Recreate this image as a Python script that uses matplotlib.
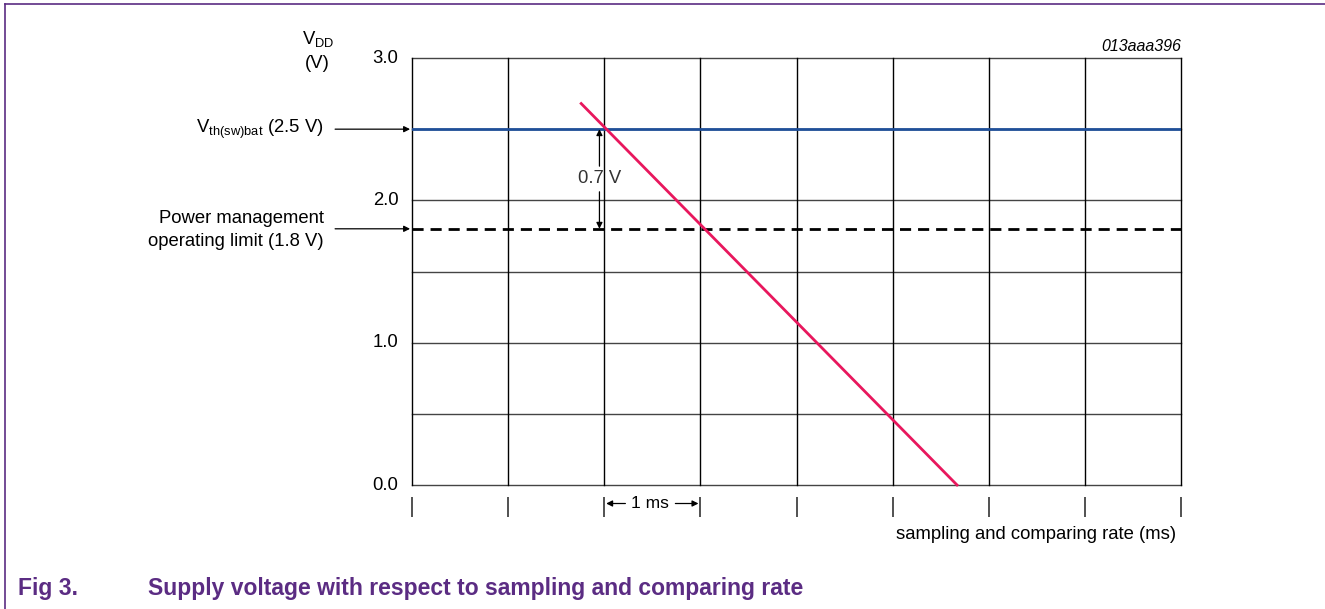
import matplotlib.pyplot as plt
from matplotlib.lines import Line2D

plt.rcParams['font.family'] = ['Liberation Sans', 'DejaVu Sans']

# data
x_ticks = [0, 1, 2, 3, 4, 5, 6, 7, 8]
y_grid = [0.0, 0.5, 1.0, 1.5, 2.0, 2.5, 3.0]
y_labels = {0.0: '0.0', 1.0: '1.0', 2.0: '2.0', 3.0: '3.0'}
v_threshold = 2.5
v_limit = 1.8
decay_x = [1.76, 5.67]
decay_y = [2.68, 0.0]

fs = 13.3
purple = '#5b2c83'
W, H = 1325, 609
fig = plt.figure(figsize=(W / 100, H / 100), dpi=100)
ax = fig.add_axes([412 / W, 1 - 485 / H, 769 / W, 427 / H])
ax.set_xlim(0, 8)
ax.set_ylim(0, 3)
ax.axis('off')

# grid
for yv in y_grid:
    ax.axhline(yv, color='#444444', lw=1, zorder=1, clip_on=False)
for xv in x_ticks:
    ax.axvline(xv, color='black', lw=1, zorder=1, clip_on=False)

# tick marks below the axis
ax.vlines(x_ticks, -0.085, -0.225, color='#333333', lw=1.2, clip_on=False)

# y labels
for yv, lab in y_labels.items():
    ax.text(-0.14, yv, lab, ha='right', va='center', fontsize=fs)
ax.text(-0.98, 3.13, r'V$_{\mathregular{DD}}$', ha='center', va='center', fontsize=fs)
ax.text(-0.98, 2.96, '(V)', ha='center', va='center', fontsize=fs)

# threshold lines
ax.axhline(v_threshold, color='#1f4f99', lw=2, zorder=3)
ax.axhline(v_limit, color='black', lw=2, ls=(0, (4, 2.5)), zorder=3)
ax.plot(decay_x, decay_y, color='#e8175d', lw=2, zorder=4, clip_on=False)

# left annotations
arrow = dict(arrowstyle='-|>', color='black', lw=0.9, mutation_scale=9, shrinkA=0, shrinkB=0)
ax.annotate('', xy=(-0.02, v_threshold), xytext=(-0.8, v_threshold), arrowprops=arrow,
            annotation_clip=False)
ax.annotate('', xy=(-0.02, v_limit), xytext=(-0.8, v_limit), arrowprops=arrow,
            annotation_clip=False)
ax.text(-0.92, v_threshold, r'V$_{\mathregular{th(sw)bat}}$ (2.5 V)', ha='right', va='center',
        fontsize=fs)
ax.text(-0.92, v_limit - 0.01, 'Power management\noperating limit (1.8 V)', ha='right',
        va='center', fontsize=fs, linespacing=1.45)

# 0.7 V dimension
ax.annotate('', xy=(1.95, v_threshold), xytext=(1.95, 2.24), arrowprops=arrow)
ax.annotate('', xy=(1.95, v_limit), xytext=(1.95, 2.06), arrowprops=arrow)
ax.text(1.95, 2.15, '0.7 V', ha='center', va='center', fontsize=fs, color='#333333')

# 1 ms dimension
ax.annotate('', xy=(2.02, -0.13), xytext=(2.22, -0.13), arrowprops=arrow, annotation_clip=False)
ax.annotate('', xy=(2.98, -0.13), xytext=(2.74, -0.13), arrowprops=arrow, annotation_clip=False)
ax.text(2.48, -0.13, '1 ms', ha='center', va='center', fontsize=12.5)

ax.text(7.95, -0.35, 'sampling and comparing rate (ms)', ha='right', va='center', fontsize=fs)
ax.text(8.0, 3.03, '013aaa396', ha='right', va='bottom', fontsize=11.5, style='italic')

# page frame and caption
fig.add_artist(Line2D([5 / W, 1], [1 - 4 / H, 1 - 4 / H], color=purple, lw=1.2))
fig.add_artist(Line2D([5 / W, 5 / W], [0, 1 - 4 / H], color=purple, lw=1.2))
cap = dict(color=purple, fontsize=16.5, fontweight='bold', va='center')
fig.text(18 / W, 1 - 588 / H, 'Fig 3.', **cap)
fig.text(148 / W, 1 - 588 / H, 'Supply voltage with respect to sampling and comparing rate',
         **cap)

fig.savefig('out.png', dpi=100)
